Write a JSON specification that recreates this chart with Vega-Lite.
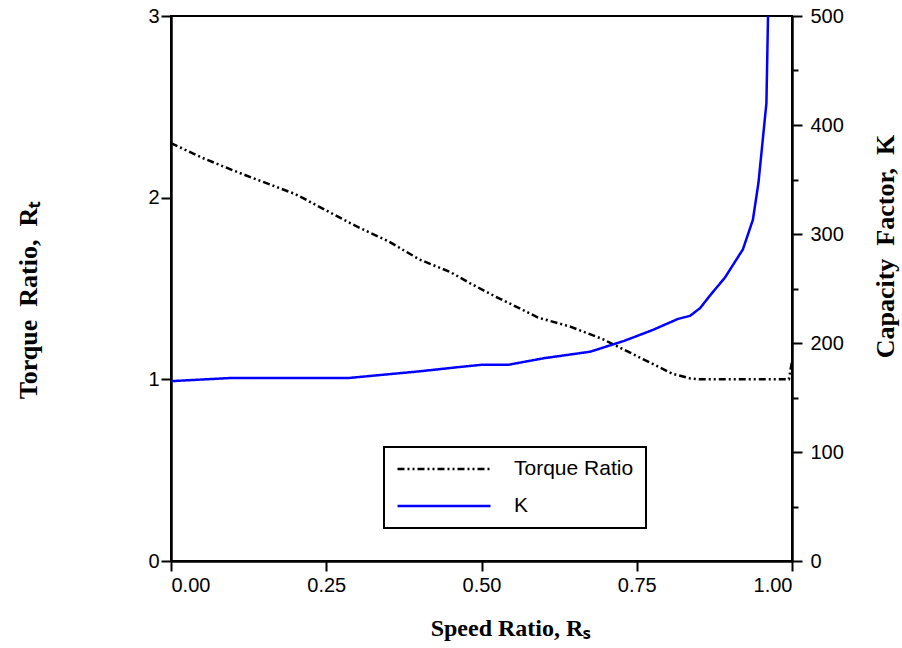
{
  "$schema": "https://vega.github.io/schema/vega-lite/v6.json",
  "width": 621,
  "height": 545,
  "autosize": "none",
  "padding": {"left": 171, "top": 16, "right": 110, "bottom": 87},
  "background": "white",
  "config": {
    "view": {"stroke": "black", "strokeWidth": 2},
    "axis": {
      "domainColor": "black", "domainWidth": 2.5, "tickColor": "black", "tickWidth": 2,
      "labelFont": "Liberation Sans", "labelFontSize": 20, "labelColor": "black",
      "titleFont": "Liberation Serif", "titleFontSize": 24, "titleFontWeight": "bold", "titleColor": "black",
      "grid": false
    }
  },
  "datasets": {
    "torque": [
      {"x": 0.0, "y": 2.30}, {"x": 0.05, "y": 2.22}, {"x": 0.10, "y": 2.15}, {"x": 0.138, "y": 2.10},
      {"x": 0.20, "y": 2.02}, {"x": 0.272, "y": 1.89}, {"x": 0.30, "y": 1.84}, {"x": 0.35, "y": 1.76},
      {"x": 0.40, "y": 1.66}, {"x": 0.45, "y": 1.59}, {"x": 0.481, "y": 1.53}, {"x": 0.52, "y": 1.46},
      {"x": 0.55, "y": 1.41}, {"x": 0.591, "y": 1.34}, {"x": 0.643, "y": 1.29}, {"x": 0.696, "y": 1.22},
      {"x": 0.755, "y": 1.12}, {"x": 0.808, "y": 1.03}, {"x": 0.836, "y": 1.005}, {"x": 0.852, "y": 1.0},
      {"x": 0.995, "y": 1.0}, {"x": 1.0, "y": 1.1}
    ],
    "kf": [
      {"x": 0.0, "k": 165}, {"x": 0.1, "k": 168}, {"x": 0.288, "k": 168}, {"x": 0.40, "k": 174},
      {"x": 0.465, "k": 178}, {"x": 0.50, "k": 180}, {"x": 0.543, "k": 180}, {"x": 0.60, "k": 186},
      {"x": 0.675, "k": 192}, {"x": 0.73, "k": 202}, {"x": 0.776, "k": 212}, {"x": 0.816, "k": 222},
      {"x": 0.836, "k": 225}, {"x": 0.852, "k": 232}, {"x": 0.87, "k": 245}, {"x": 0.892, "k": 260},
      {"x": 0.921, "k": 286}, {"x": 0.937, "k": 313}, {"x": 0.946, "k": 347}, {"x": 0.9588, "k": 420},
      {"x": 0.9614, "k": 500}
    ]
  },
  "encoding": {
    "x": {
      "field": "x", "type": "quantitative",
      "scale": {"domain": [0, 1], "nice": false},
      "axis": {
        "values": [0, 0.25, 0.5, 0.75, 1], "format": ".2f", "tickSize": 10, "labelPadding": 4,
        "title": "Speed Ratio, Rₛ", "titleX": 339, "titleY": 67, "titleBaseline": "middle", "titleAlign": "center"
      }
    }
  },
  "layer": [
    {
      "data": {"name": "torque"},
      "mark": {"type": "line", "strokeWidth": 2.5, "clip": true},
      "encoding": {
        "y": {
          "field": "y", "type": "quantitative",
          "scale": {"domain": [0, 3], "nice": false},
          "axis": {
            "orient": "left",
            "values": [0, 0.5, 1, 1.5, 2, 2.5, 3],
            "format": "d",
            "labelExpr": "datum.value % 1 === 0 ? datum.label : ''",
            "tickSize": {"condition": {"test": "datum.value % 1 === 0", "value": 10}, "value": 6},
            "labelPadding": 2,
            "title": "Torque\u2002Ratio,\u2002Rₜ", "titleFontSize": 26, "titleAngle": -90, "titleX": -143, "titleY": 284,
            "titleBaseline": "middle", "titleAlign": "center"
          }
        },
        "color": {"datum": "Torque Ratio", "type": "nominal",
          "scale": {"domain": ["Torque Ratio", "K"], "range": ["black", "blue"]},
          "legend": {
            "title": null, "orient": "none", "legendX": 213, "legendY": 431,
            "symbolType": "stroke", "symbolSize": 8649, "symbolStrokeWidth": 2.5,
            "clipHeight": 20, "rowPadding": 16, "padding": 12, "labelOffset": 22,
            "labelFont": "Liberation Sans", "labelFontSize": 21, "labelColor": "black",
            "strokeColor": "black", "fillColor": "white",
            "encode": {"legend": {"update": {"strokeWidth": {"value": 2}}}}
          }
        },
        "strokeDash": {"datum": "Torque Ratio", "type": "nominal",
          "scale": {"domain": ["Torque Ratio", "K"], "range": [[7, 3, 2, 3, 2, 3], [1, 0]]}
        }
      }
    },
    {
      "data": {"name": "kf"},
      "mark": {"type": "line", "strokeWidth": 2.5, "clip": true},
      "encoding": {
        "y": {
          "field": "k", "type": "quantitative",
          "scale": {"domain": [0, 500], "nice": false},
          "axis": {
            "orient": "right",
            "values": [0, 50, 100, 150, 200, 250, 300, 350, 400, 450, 500],
            "labelExpr": "datum.value % 100 === 0 ? datum.label : ''",
            "tickSize": {"condition": {"test": "datum.value % 100 === 0", "value": 10}, "value": 6},
            "labelPadding": 8,
            "title": "Capacity\u2002Factor,\u2002K", "titleFontSize": 26, "titleAngle": -90, "titleX": 93, "titleY": 230,
            "titleBaseline": "middle", "titleAlign": "center"
          }
        },
        "color": {"datum": "K", "type": "nominal"},
        "strokeDash": {"datum": "K", "type": "nominal"}
      }
    }
  ],
  "resolve": {"scale": {"y": "independent"}}
}
